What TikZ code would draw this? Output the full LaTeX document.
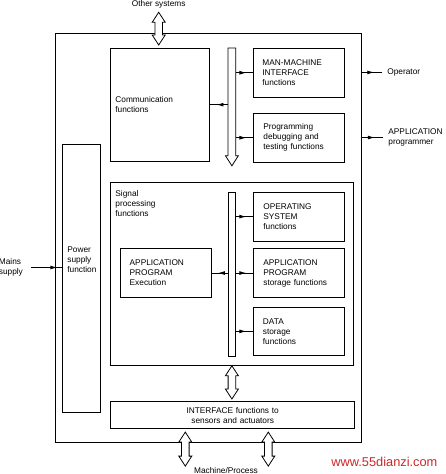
\documentclass[tikz,border=0pt]{standalone}
\usepackage{fontspec}
\setmainfont{Liberation Sans}
\usetikzlibrary{arrows.meta,decorations.markings,calc}
\definecolor{wmred}{RGB}{205,40,40}
\begin{document}
\begin{tikzpicture}[x=1pt,y=-1pt, line width=0.8pt,
  every node/.style={font=\fontsize{8.3}{10}\selectfont},
  bx/.style={draw, rectangle, anchor=north west, inner ysep=0pt, align=left},
  lbl/.style={inner sep=0pt, align=left},
  sig/.style={postaction={decorate}, decoration={markings,
     mark=at position 0.62 with {\arrow{Latex[length=7pt,width=3.8pt]}}}},
  sigend/.style={postaction={decorate}, decoration={markings,
     mark=at position 0.85 with {\arrow{Latex[length=7pt,width=3.8pt]}}}},
  hollow/.style={draw, fill=white, to path={let \p1=(\tikztostart), \p2=(\tikztotarget) in
     (\x1,\y1) -- (\x1+6.5pt,\y1-10pt) -- (\x1+3.8pt,\y1-10pt) -- (\x1+3.8pt,\y2+10pt)
     -- (\x1+6.5pt,\y2+10pt) -- (\x1,\y2) -- (\x1-6.5pt,\y2+10pt) -- (\x1-3.8pt,\y2+10pt)
     -- (\x1-3.8pt,\y1-10pt) -- (\x1-6.5pt,\y1-10pt) -- cycle}}
]
\fill[white] (0,0) rectangle (445,474);
\useasboundingbox (0,0) rectangle (445,474);

% outer frame
\node[bx, minimum width=306pt, minimum height=409pt] (outer) at (55,33) {};

% communication part
\node[bx, minimum width=99pt, minimum height=112.5pt, inner xsep=5.5pt, text width=88pt] (comm) at (109.5,48) {Communication\\functions};
\node[draw=none, rectangle, anchor=north west, inner sep=0pt, minimum width=7pt, minimum height=107pt] (bus1) at (228,48) {};
\draw (bus1.south west) -- (bus1.north west) -- (bus1.north east) -- (bus1.south east)
  -- ++(2.5,0) -- ($(bus1.south)+(0,10)$) -- ($(bus1.south west)+(-2.5,0)$) -- cycle;
\node[bx, minimum width=90.5pt, minimum height=48.7pt, inner xsep=9pt, text width=72.5pt] (mmi) at (253,48) {MAN-MACHINE\\INTERFACE\\functions};
\node[bx, minimum width=90.5pt, minimum height=48.7pt, inner xsep=10pt, text width=70.5pt] (prog) at (253,113) {Programming\\debugging and\\testing functions};

% power supply
\node[bx, minimum width=37.5pt, minimum height=268pt] (power) at (62,144) {};
\node[lbl, anchor=north west] (powertxt) at (67,246) {Power\\supply\\function};

% signal processing
\node[bx, minimum width=243.8pt, minimum height=182.7pt] (sig) at (109.5,182.3) {};
\node[lbl, anchor=north west] (sigtxt) at (115,190) {Signal\\processing\\functions};
\node[bx, minimum width=7pt, minimum height=164.3pt, inner sep=0pt] (bus2) at (228,191.7) {};
\node[bx, minimum width=90.5pt, minimum height=49pt, inner xsep=10pt, text width=70.5pt] (os) at (253,191.7) {OPERATING\\SYSTEM\\functions};
\node[bx, minimum width=90.5pt, minimum height=48.7pt, inner xsep=10pt, text width=70.5pt] (aps) at (253,248.3) {APPLICATION\\PROGRAM\\storage functions};
\node[bx, minimum width=90.5pt, minimum height=48.6pt, inner xsep=9.5pt, text width=71.5pt] (data) at (253,306.7) {DATA\\storage\\functions};
\node[bx, minimum width=90.4pt, minimum height=48.7pt, inner xsep=9pt, text width=72.4pt] (exec) at (120.3,248.3) {APPLICATION\\PROGRAM\\Execution};

% interface
\node[bx, minimum width=244pt, minimum height=27.3pt, inner xsep=0pt, text width=244pt, align=center] (iface) at (110.3,401) {INTERFACE functions to\\sensors and actuators};

% outside labels
\node[lbl] (othersys) at (158.7,4) {Other systems};
\node[lbl] (machine) at (226,470.5) {Machine/Process};
\node[lbl, anchor=west] (op) at (387,72.4) {Operator};
\node[lbl, anchor=west] (appprog) at (388,137.5) {APPLICATION\\programmer};
\node[lbl, anchor=west] (mains) at (-1.5,267.5) {Mains\\supply};
\node[inner sep=0pt, anchor=west, text=wmred, font=\fontsize{12.8}{14}\selectfont] (wm) at (331,461.7) {www.55dianzi.com};

% small signal connectors
\draw[sig] (bus1.east |- mmi.west) -- (mmi.west);
\draw[sig] (bus1.east |- prog.west) -- (prog.west);
\draw[sig] (bus1.west |- comm.east) -- (comm.east);
\draw[sig] (outer.east |- op.west) -- ($(op.west)+(-5,0)$);
\draw[sig] (outer.east |- appprog.west) -- ($(appprog.west)+(-5,0)$);
\draw[sigend] ($(mains.east)+(8,0)$) -- (power.west |- mains.east);
\draw[sig] (bus2.east |- os.west) -- (os.west);
\draw[sig] (bus2.east |- aps.west) -- (aps.west);
\draw[sig] (bus2.east |- data.west) -- (data.west);
\draw[sig] (bus2.west |- exec.east) -- (exec.east);

% hollow double arrows
\draw[hollow] ($(othersys.south)+(0,4)$) to ($(othersys.south |- comm.north)+(0,-3)$);
\draw[hollow] (bus2.south |- sig.south) to ($(bus2.south |- iface.north)+(0,-2)$);
\draw[hollow] ($(iface.south west)+(75,3)$) to ($(iface.south west)+(75,37)$);
\draw[hollow] ($(iface.south west)+(158,3)$) to ($(iface.south west)+(158,37)$);
\end{tikzpicture}
\end{document}
